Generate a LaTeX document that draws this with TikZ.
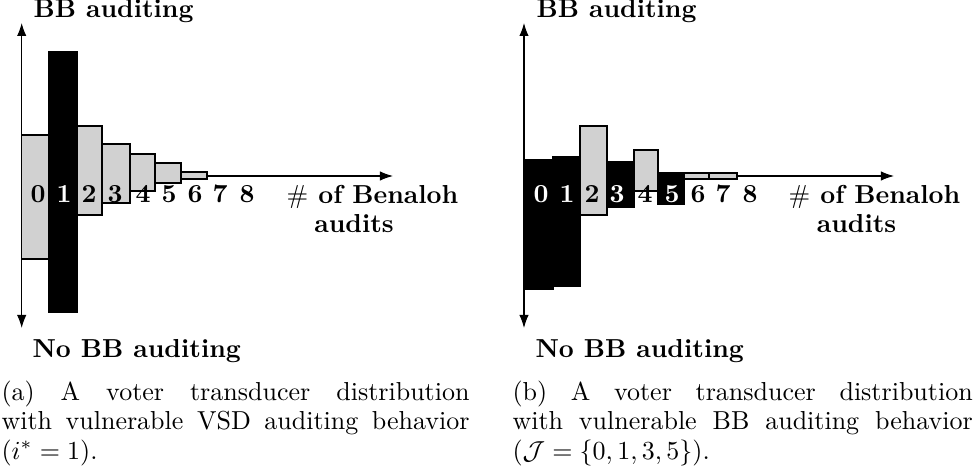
\documentclass[tikz,border=0pt]{standalone}
\usepackage{amsmath,amssymb}
\usepackage{tikz}
\usetikzlibrary{arrows.meta,positioning}
\colorlet{bargray}{black!18}
\newcommand{\graybar}[2]{\draw[fill=bargray] (#1) rectangle (#2);}
\newcommand{\blackbar}[2]{\draw[fill=black] (#1) rectangle (#2);}

\begin{document}
\begin{tikzpicture}[x=0.3846pt,y=-0.3846pt,>={Latex[length=5pt,width=3.6pt]},
  lbl/.style={font=\bfseries,inner sep=0pt},
  digit/.style={font=\bfseries,inner sep=0pt,anchor=base},
  capt/.style={font=\fontsize{10}{11.4}\selectfont,align=justify,inner sep=0pt,anchor=north west}]
\useasboundingbox (0,0) rectangle (976,472);
\coordinate (lt) at (21.7,23); \coordinate (lb) at (21.7,328);
\coordinate (lo) at (21.7,176); \coordinate (lx) at (393,176);
\draw[<->] (lt)--(lb);
\draw[->] (lo)--(lx);
\graybar{21.7,135}{49,259}\blackbar{49,52}{77,312}
\graybar{77,126}{102,215}\graybar{102,144}{130,203}
\graybar{130,154}{155,191}\graybar{155,163}{181,183}
\graybar{181,172}{207,179}
\foreach \x/\d/\c in {38/0/black,64/1/white,89/2/black,115/3/black,143/4/black,169/5/black,195/6/black,220/7/black,247/8/black}
  \node[digit,text=\c] (a\d) at (\x,203) {\d};
\node[lbl,anchor=base west] (atop) at (33,18) {BB auditing};
\node[lbl,anchor=base west] (abot) at (32,358) {No BB auditing};
\node[lbl,anchor=base] (ax) at (372.5,204) {$\#$ of Benaloh};
\node[lbl,anchor=base] (ax2) at (354,233) {audits};
\node[capt,text width=180pt] (acap) at (1,380) {(a) A voter transducer distribution\linebreak with vulnerable VSD auditing behavior\linebreak ($i^*=1$).};
\coordinate (rt) at (524,23); \coordinate (rb) at (524,328);
\coordinate (ro) at (524,176); \coordinate (rx) at (894,176);
\draw[<->] (rt)--(rb);
\draw[->] (ro)--(rx);
\blackbar{524,160}{553,289}\blackbar{553,157}{580,286}
\graybar{580,126}{607,215}\blackbar{607,162}{634,207}
\graybar{634,150}{658,191}\blackbar{658,173}{684,204}
\graybar{684,173}{709,179}\graybar{709,173}{737,179}
\foreach \x/\d/\c in {541/0/white,567/1/white,592/2/black,617/3/white,645/4/black,672/5/white,698/6/black,723/7/black,750/8/black}
  \node[digit,text=\c] (b\d) at (\x,203) {\d};
\node[lbl,anchor=base west] (btop) at (536,18) {BB auditing};
\node[lbl,anchor=base west] (bbot) at (535,358) {No BB auditing};
\node[lbl,anchor=base] (bx) at (874.5,204) {$\#$ of Benaloh};
\node[lbl,anchor=base] (bx2) at (856.5,233) {audits};
\node[capt,text width=177pt] (bcap) at (512,380) {(b) A voter transducer distribution\linebreak with vulnerable BB auditing behavior\linebreak ($\mathcal{J}=\{0,1,3,5\}$).};
\end{tikzpicture}
\end{document}
